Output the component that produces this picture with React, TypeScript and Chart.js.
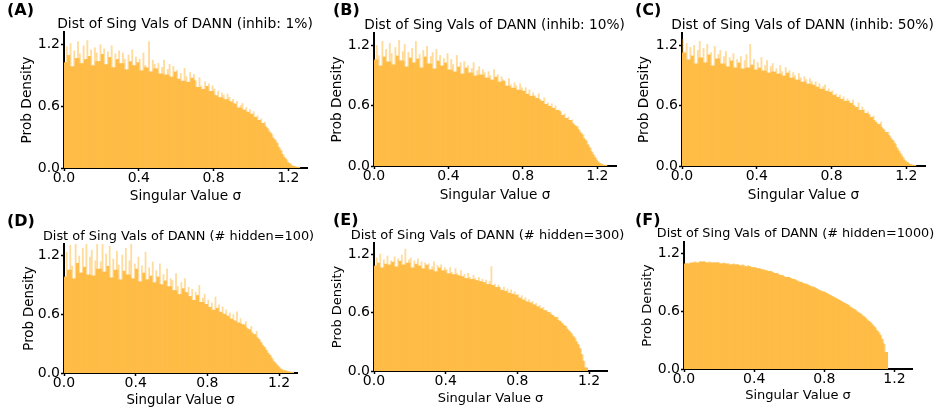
import React, { useEffect, useRef } from "react";
import { Chart, registerables } from "chart.js";

Chart.register(...registerables);

const FONT = "'DejaVu Sans', sans-serif";
const BODY_COLOR = "rgb(255,188,70)";
const TIP_COLOR = "rgba(255,170,20,0.42)";
const BIN_WIDTH = 0.01;
const X_TICKS = [0, 0.4, 0.8, 1.2];
const Y_TICKS = [0, 0.6, 1.2];
const X_LABEL = "Singular Value σ";
const Y_LABEL = "Prob Density";

const titles = [
  "Dist of Sing Vals of DANN (inhib: 1%)",
  "Dist of Sing Vals of DANN (inhib: 10%)",
  "Dist of Sing Vals of DANN (inhib: 50%)",
  "Dist of Sing Vals of DANN (# hidden=100)",
  "Dist of Sing Vals of DANN (# hidden=300)",
  "Dist of Sing Vals of DANN (# hidden=1000)",
];
const letters = ["(A)", "(B)", "(C)", "(D)", "(E)", "(F)"];

// Histogram densities, bin width 0.01 starting at 0
const densityA = [
  1.02, 1.18, 1.09, 1.21, 0.98, 1.14, 1.06, 1.23, 1.11, 1.01,
  1.19, 1.05, 1.24, 1.08, 1.15, 0.99, 1.17, 1.12, 1.03, 1.2,
  1.1, 1.16, 1.0, 1.13, 1.07, 1.19, 0.97, 1.11, 1.05, 1.14,
  1.01, 1.12, 1.06, 0.95, 1.1, 1.03, 1.15, 0.99, 1.08, 1.02,
  1.06, 0.94, 1.12, 1.0, 0.97, 1.23, 0.93, 1.05, 1.01, 0.96,
  1.02, 0.91, 0.98, 1.05, 0.9, 0.96, 1.01, 0.88, 0.99, 0.93,
  0.95, 0.86, 0.92, 0.84, 0.97, 0.89, 0.83, 0.93, 0.87, 0.91,
  0.85, 0.78, 0.88, 0.8, 0.76, 0.84, 0.79, 0.82, 0.74, 0.8,
  0.77, 0.7, 0.75, 0.68, 0.73, 0.71, 0.66, 0.72, 0.69, 0.64,
  0.67, 0.62, 0.65, 0.58, 0.61, 0.63, 0.56, 0.59, 0.54, 0.57,
  0.52, 0.55, 0.49, 0.51, 0.46, 0.48, 0.43, 0.45, 0.4, 0.38,
  0.35, 0.33, 0.29, 0.27, 0.24, 0.2, 0.17, 0.13, 0.1, 0.08,
  0.05, 0.04, 0.02, 0.015, 0.01, 0.005,
];
const densityB = [
  1.05, 1.2, 1.1, 0.99, 1.24, 1.08, 1.16, 1.03, 1.22, 1.12,
  1.0, 1.18, 1.09, 1.25, 1.04, 1.14, 1.21, 0.98, 1.13, 1.07,
  1.17, 1.02, 1.24, 1.06, 1.11, 0.97, 1.15, 1.08, 1.19, 1.01,
  1.09, 1.13, 0.96, 1.16, 1.04, 1.1, 0.99, 1.07, 1.02, 1.12,
  0.95, 1.06, 1.01, 0.93, 1.1, 0.98, 1.03, 0.91, 1.04, 0.97,
  1.0, 0.92, 0.97, 1.03, 0.89, 0.95, 0.99, 0.9, 0.96, 0.93,
  0.87, 0.94, 0.9, 0.85, 0.96, 0.88, 0.91, 0.83, 0.89, 0.86,
  0.84, 0.79, 0.87, 0.81, 0.77, 0.83, 0.8, 0.75, 0.82, 0.78,
  0.74, 0.78, 0.71, 0.76, 0.69, 0.73, 0.7, 0.67, 0.72, 0.66,
  0.64, 0.68, 0.61, 0.63, 0.59, 0.62, 0.57, 0.6, 0.55, 0.56,
  0.54, 0.5, 0.52, 0.47, 0.49, 0.45, 0.46, 0.42, 0.4, 0.39,
  0.36, 0.33, 0.31, 0.27, 0.25, 0.21, 0.18, 0.14, 0.11, 0.08,
  0.05, 0.03, 0.02, 0.01, 0.005,
];
const densityC = [
  1.26, 1.12, 1.22, 1.05, 1.18, 1.09, 1.2, 1.01, 1.15, 1.24,
  1.07, 1.17, 1.02, 1.21, 1.1, 1.13, 0.99, 1.19, 1.06, 1.11,
  1.15, 1.01, 1.09, 1.14, 0.98, 1.08, 1.04, 1.12, 0.97, 1.06,
  1.02, 1.09, 0.96, 1.05, 1.11, 0.97, 1.21, 1.0, 1.06, 0.95,
  1.03, 0.97, 1.08, 0.94, 1.0, 1.05, 0.92, 0.99, 1.02, 0.93,
  0.97, 0.91, 1.0, 0.94, 0.89, 0.98, 0.92, 0.95, 0.87, 0.93,
  0.9, 0.85, 0.92, 0.88, 0.83, 0.89, 0.86, 0.81, 0.87, 0.84,
  0.8, 0.84, 0.78, 0.82, 0.76, 0.79, 0.81, 0.74, 0.77, 0.73,
  0.75, 0.7, 0.72, 0.68, 0.71, 0.66, 0.69, 0.64, 0.67, 0.65,
  0.62, 0.66, 0.6, 0.58, 0.63, 0.55, 0.59, 0.56, 0.52, 0.54,
  0.51, 0.48, 0.5, 0.45, 0.43, 0.41, 0.44, 0.38, 0.36, 0.33,
  0.34, 0.3, 0.27, 0.25, 0.22, 0.18, 0.15, 0.12, 0.09, 0.06,
  0.04, 0.03, 0.015, 0.01, 0.005,
];
const densityD = [
  0.98, 1.24, 1.05, 1.31, 1.1, 0.96, 1.34, 1.12, 1.2, 1.02,
  1.28, 1.08, 1.35, 1.0, 1.19, 1.26, 0.99, 1.15, 1.33, 1.06,
  1.14, 1.36, 1.03, 1.22, 1.09, 1.3, 0.97, 1.17, 1.05, 1.25,
  1.11, 0.95, 1.21, 1.04, 1.28, 1.0, 1.15, 1.33, 0.96, 1.12,
  1.06, 1.19, 0.93, 1.1, 1.02, 1.24, 0.95, 1.08, 0.99, 1.14,
  0.92, 1.05, 0.98, 1.12, 0.9, 1.01, 0.94, 1.07, 0.88, 0.97,
  0.95, 0.84, 1.02, 0.89, 0.8, 0.93, 0.86, 0.97, 0.82, 0.88,
  0.78, 0.86, 0.74, 0.83, 0.79, 0.9, 0.72, 0.77, 0.81, 0.7,
  0.75, 0.67, 0.72, 0.64, 0.78, 0.66, 0.7, 0.62, 0.68, 0.6,
  0.65, 0.58, 0.62, 0.55, 0.6, 0.53, 0.63, 0.51, 0.56, 0.5,
  0.49, 0.53, 0.46, 0.44, 0.48, 0.41, 0.39, 0.43, 0.36, 0.34,
  0.31, 0.28, 0.26, 0.23, 0.2, 0.18, 0.15, 0.12, 0.1, 0.08,
  0.06, 0.04, 0.03, 0.02, 0.02, 0.01, 0.01, 0.005,
];
const densityE = [
  1.08, 1.17, 1.11, 1.21, 1.06, 1.15, 1.1, 1.19, 1.09, 1.14,
  1.12, 1.18, 1.07, 1.16, 1.13, 1.2, 1.09, 1.26, 1.11, 1.15,
  1.17, 1.06, 1.14, 1.1, 1.16, 1.08, 1.13, 1.05, 1.12, 1.09,
  1.11, 1.04, 1.08, 1.13, 1.02, 1.09, 1.06, 1.1, 1.03, 1.07,
  1.05, 1.0, 1.07, 1.02, 0.99, 1.06, 1.01, 0.98, 1.04, 0.97,
  1.0, 0.95, 1.01, 0.97, 0.94, 0.99, 0.96, 0.93, 0.97, 0.92,
  0.95, 0.91, 0.94, 0.89, 0.93, 1.08, 0.88, 0.9, 0.86, 0.89,
  0.86, 0.83, 0.87, 0.82, 0.85, 0.8, 0.84, 0.79, 0.82, 0.78,
  0.79, 0.75, 0.78, 0.73, 0.76, 0.71, 0.74, 0.7, 0.72, 0.68,
  0.7, 0.66, 0.68, 0.64, 0.66, 0.62, 0.63, 0.6, 0.61, 0.58,
  0.57, 0.55, 0.56, 0.52, 0.51, 0.49, 0.47, 0.46, 0.43, 0.41,
  0.39, 0.36, 0.34, 0.3, 0.27, 0.23, 0.17, 0.1, 0.03,
];
const densityF = [
  1.09, 1.1, 1.09, 1.11, 1.1, 1.11, 1.12, 1.1, 1.11, 1.12,
  1.11, 1.12, 1.11, 1.1, 1.12, 1.11, 1.1, 1.11, 1.1, 1.11,
  1.1, 1.09, 1.11, 1.1, 1.09, 1.1, 1.08, 1.09, 1.1, 1.08,
  1.09, 1.08, 1.07, 1.09, 1.08, 1.06, 1.08, 1.07, 1.06, 1.05,
  1.06, 1.05, 1.04, 1.05, 1.03, 1.04, 1.02, 1.03, 1.01, 1.02,
  1.01, 1.0, 0.99, 1.0, 0.98, 0.97, 0.98, 0.96, 0.95, 0.96,
  0.95, 0.94, 0.93, 0.93, 0.92, 0.91, 0.9, 0.9, 0.89, 0.88,
  0.88, 0.87, 0.86, 0.85, 0.85, 0.84, 0.83, 0.82, 0.81, 0.8,
  0.8, 0.79, 0.78, 0.77, 0.76, 0.75, 0.74, 0.73, 0.72, 0.71,
  0.7, 0.69, 0.68, 0.67, 0.66, 0.64, 0.63, 0.62, 0.61, 0.59,
  0.58, 0.57, 0.55, 0.54, 0.52, 0.5, 0.49, 0.47, 0.45, 0.43,
  0.4, 0.38, 0.35, 0.31, 0.26, 0.17,
];
const densities = [densityA, densityB, densityC, densityD, densityE, densityF];

const X_MAX = 1.3;
const Y_MAX = 1.32;

// layout (pixels) per panel: canvas box, paddings, axis sizes, text sizes and positions
const layouts = [
  { left: 0, top: 0, w: 320, h: 206, padT: 32, padL: 20.5, yW: 43.5, padR: 13, padB: 2.3, xH: 35.7, labelSize: 13.7, titleSize: 13.9, titleX: 185, titleY: 25, letterX: 7, letterY: 2 },
  { left: 320, top: 0, w: 310, h: 206, padT: 33, padL: 10.5, yW: 43.5, padR: 14, padB: 3.5, xH: 36.5, labelSize: 13.6, titleSize: 13.7, titleX: 494.5, titleY: 25.8, letterX: 333, letterY: 2 },
  { left: 630, top: 0, w: 310, h: 206, padT: 33, padL: 7.5, yW: 44.5, padR: 15, padB: 4, xH: 36, labelSize: 13.7, titleSize: 13.8, titleX: 802.5, titleY: 25.8, letterX: 635, letterY: 2 },
  { left: 0, top: 206, w: 320, h: 206, padT: 38, padL: 23, yW: 41, padR: 23, padB: 5, xH: 34, labelSize: 13.3, titleSize: 12.9, titleX: 178.5, titleY: 237, letterX: 7, letterY: 212.5 },
  { left: 320, top: 206, w: 310, h: 206, padT: 37, padL: 11.5, yW: 42.5, padR: 23, padB: 6.5, xH: 34.5, labelSize: 13, titleSize: 13, titleX: 487.5, titleY: 235, letterX: 333, letterY: 211.5 },
  { left: 630, top: 206, w: 310, h: 206, padT: 36, padL: 11.5, yW: 42.5, padR: 28, padB: 10, xH: 33, labelSize: 13, titleSize: 12.8, titleX: 795.5, titleY: 234, letterX: 635, letterY: 211.5 },
];

function Panel({ idx }: { idx: number }) {
  const ref = useRef<HTMLCanvasElement>(null);
  const L = layouts[idx];
  useEffect(() => {
    const values = densities[idx];
    // solid part of the histogram: what every neighbouring bin reaches
    const body = values.map((v, i) =>
      Math.min(v, i > 0 ? values[i - 1] : v, i < values.length - 1 ? values[i + 1] : v)
    );
    const tickFont = { family: FONT, size: 14, lineHeight: 1 };
    const labelFont = { family: FONT, size: L.labelSize, lineHeight: 1 };
    const chart = new Chart(ref.current as HTMLCanvasElement, {
      type: "bar",
      data: {
        datasets: [
          {
            data: body.map((v, i) => ({ x: (i + 0.5) * BIN_WIDTH, y: v })),
            backgroundColor: BODY_COLOR,
            borderWidth: 0,
            barPercentage: 1,
            categoryPercentage: 1,
            inflateAmount: 0.6,
            grouped: false,
          },
          {
            data: values.map((v, i) => ({ x: (i + 0.5) * BIN_WIDTH, y: v })),
            backgroundColor: TIP_COLOR,
            borderWidth: 0,
            barPercentage: 1,
            categoryPercentage: 1,
            inflateAmount: 0,
            grouped: false,
          },
        ],
      },
      options: {
        responsive: false,
        maintainAspectRatio: false,
        animation: false,
        devicePixelRatio: 1,
        layout: { padding: { left: L.padL, right: L.padR, top: L.padT, bottom: L.padB } },
        plugins: {
          legend: { display: false },
          tooltip: { enabled: false },
          title: { display: false },
        },
        scales: {
          x: {
            type: "linear",
            min: 0,
            max: X_MAX,
            offset: false,
            grid: {
              display: true,
              drawOnChartArea: false,
              drawTicks: true,
              tickLength: 3,
              tickColor: "#000",
              tickWidth: 1.5,
              offset: false,
            },
            border: { display: true, color: "#000", width: 2 },
            ticks: {
              color: "#000",
              font: tickFont,
              padding: 0,
              maxRotation: 0,
              autoSkip: false,
              callback: (v: any) => Number(v).toFixed(1),
            },
            afterBuildTicks: (s: any) => {
              s.ticks = X_TICKS.map((v) => ({ value: v }));
            },
            afterFit: (s: any) => {
              s.height = L.xH;
            },
            title: { display: true, text: X_LABEL, color: "#000", font: labelFont, padding: 0 },
          },
          y: {
            type: "linear",
            min: 0,
            max: Y_MAX,
            grid: {
              display: true,
              drawOnChartArea: false,
              drawTicks: true,
              tickLength: 3,
              tickColor: "#000",
              tickWidth: 1.5,
            },
            border: { display: true, color: "#000", width: 2 },
            ticks: {
              color: "#000",
              font: tickFont,
              padding: 1,
              autoSkip: false,
              callback: (v: any) => Number(v).toFixed(1),
            },
            afterBuildTicks: (s: any) => {
              s.ticks = Y_TICKS.map((v) => ({ value: v }));
            },
            afterFit: (s: any) => {
              s.width = L.yW;
            },
            title: { display: true, text: Y_LABEL, color: "#000", font: labelFont, padding: 0 },
          },
        },
      },
    } as any);
    return () => chart.destroy();
  }, [idx]);
  return (
    <canvas
      ref={ref}
      width={L.w}
      height={L.h}
      style={{ position: "absolute", left: L.left, top: L.top, width: L.w, height: L.h }}
    />
  );
}

export default function App() {
  return (
    <div style={{ position: "fixed", left: 0, top: 0, width: 940, height: 412, background: "#fff", overflow: "hidden" }}>
      {layouts.map((_, i) => (
        <Panel key={i} idx={i} />
      ))}
      {layouts.map((L, i) => (
        <div
          key={"t" + i}
          style={{
            position: "absolute",
            left: L.titleX,
            top: L.titleY - L.titleSize * 0.54,
            transform: "translateX(-50%)",
            font: `${L.titleSize}px/${L.titleSize}px ${FONT}`,
            color: "#000",
            whiteSpace: "nowrap",
          }}
        >
          {titles[i]}
        </div>
      ))}
      {layouts.map((L, i) => (
        <div
          key={"l" + i}
          style={{
            position: "absolute",
            left: L.letterX,
            top: L.letterY,
            font: `bold 16px/16px ${FONT}`,
            color: "#000",
            whiteSpace: "nowrap",
          }}
        >
          {letters[i]}
        </div>
      ))}
    </div>
  );
}
